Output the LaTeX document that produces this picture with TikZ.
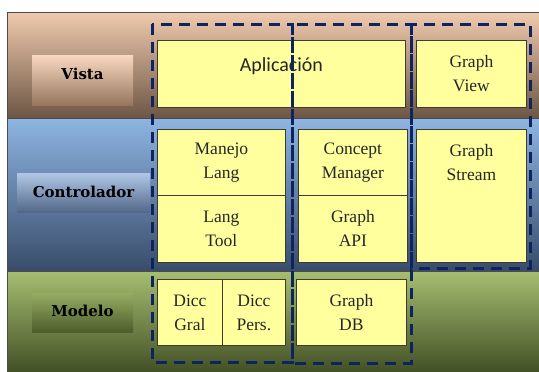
\documentclass[tikz,border=0pt]{standalone}
\usepackage{fontspec}
\setmainfont{Liberation Serif}
\newfontfamily\boxfont{Liberation Serif}
\newfontfamily\layerfont{DejaVu Serif}
\newfontfamily\appfont{Carlito}

% layer band colours
\definecolor{vistaTop}{RGB}{240,202,174}
\definecolor{vistaMid}{RGB}{206,166,136}
\definecolor{vistaBot}{RGB}{108,86,68}
\definecolor{ctrlTop}{RGB}{142,181,226}
\definecolor{ctrlMid}{RGB}{106,140,184}
\definecolor{ctrlBot}{RGB}{56,76,106}
\definecolor{modTop}{RGB}{166,190,112}
\definecolor{modMid}{RGB}{126,148,76}
\definecolor{modBot}{RGB}{66,80,38}
% layer label colours
\definecolor{vlabTop}{RGB}{250,216,192}
\definecolor{vlabBot}{RGB}{150,118,95}
\definecolor{clabTop}{RGB}{176,200,230}
\definecolor{clabBot}{RGB}{84,104,138}
\definecolor{mlabTop}{RGB}{150,172,98}
\definecolor{mlabBot}{RGB}{78,94,44}
% components
\definecolor{compFill}{RGB}{255,255,158}
\definecolor{compLine}{RGB}{60,60,50}
\definecolor{groupLine}{RGB}{14,36,96}

\tikzset{
  band/.style={draw=black!70, line width=0.8pt},
  layerlabel/.style={inner sep=0pt, font=\layerfont\bfseries\fontsize{15}{18}\selectfont, text=black},
  comp/.style={draw=compLine, line width=0.8pt, fill=compFill, inner sep=0pt, anchor=north west},
  comptext/.style={align=center, inner sep=0pt, text=black!85,
    font=\boxfont\fontsize{17.5}{24}\selectfont},
  group/.style={draw=groupLine, line width=3pt, dash pattern=on 11pt off 7pt},
}

\begin{document}
\begin{tikzpicture}[x=1pt,y=-1pt]
\useasboundingbox (0,0) rectangle (539,372);
\fill[white] (0,0) rectangle (539,372);

% layer bands
\shade[top color=vistaTop, middle color=vistaMid, bottom color=vistaBot]
  (7,12) rectangle (539,118);
\shade[top color=ctrlTop, middle color=ctrlMid, bottom color=ctrlBot]
  (7,118) rectangle (539,271);
\shade[top color=modTop, middle color=modMid, bottom color=modBot]
  (7,271) rectangle (539,372);
\draw[band] (539,12) -- (7,12) -- (7,372);
\draw[band] (7,118) -- (539,118);
\draw[band] (7,271) -- (539,271);

% layer labels
\shade[top color=vlabTop, bottom color=vlabBot] (32,55) rectangle (133,105);
\node[layerlabel] (vista) at (82.5,74) {Vista};
\shade[top color=clabTop, bottom color=clabBot] (17,173) rectangle (150,212);
\node[layerlabel] (controlador) at (83.5,192) {Controlador};
\shade[top color=mlabTop, bottom color=mlabBot] (32,293) rectangle (133,332);
\node[layerlabel] (modelo) at (82.5,311) {Modelo};

% components
\node[comp, minimum width=248pt, minimum height=67pt] (apl) at (157,40) {};
\node[inner sep=0pt, font=\appfont\fontsize{20}{24}\selectfont, text=black!85]
  (apltext) at ([yshift=8pt]apl.center) {Aplicación};
\node[comp, minimum width=110pt, minimum height=67pt] (gview) at (416,40) {};
\node[comptext] (gviewtext) at (gview.center) {Graph\\View};

\node[comp, minimum width=128pt, minimum height=66pt] (manejo) at (157,129) {};
\node[comptext] (manejotext) at (manejo.center) {Manejo\\Lang};
\node[comp, minimum width=128pt, minimum height=67pt] (langtool) at (157,195) {};
\node[comptext] (langtooltext) at (langtool.center) {Lang\\Tool};

\node[comp, minimum width=109pt, minimum height=66pt] (concept) at (298,129) {};
\node[comptext] (concepttext) at (concept.center) {Concept\\Manager};
\node[comp, minimum width=109pt, minimum height=67pt] (gapi) at (298,195) {};
\node[comptext] (gapitext) at (gapi.center) {Graph\\API};

\node[comp, minimum width=110pt, minimum height=133pt] (gstream) at (416,129) {};
\node[comptext] (gstreamtext) at ([yshift=33pt]gstream.center) {Graph\\Stream};

\node[comp, minimum width=65pt, minimum height=66pt] (dgral) at (157,279) {};
\node[comptext] (dgraltext) at (dgral.center) {Dicc\\Gral};
\node[comp, minimum width=63pt, minimum height=66pt] (dpers) at (222,279) {};
\node[comptext] (dperstext) at (dpers.center) {Dicc\\Pers.};

\node[comp, minimum width=110pt, minimum height=66pt] (gdb) at (296,279) {};
\node[comptext] (gdbtext) at (gdb.center) {Graph\\DB};

% dashed groupings
\draw[group] (152,24) rectangle (292,362);
\draw[group] (292,24) rectangle (411,363);
\draw[group] (411,24) rectangle (530,268);
\end{tikzpicture}
\end{document}
